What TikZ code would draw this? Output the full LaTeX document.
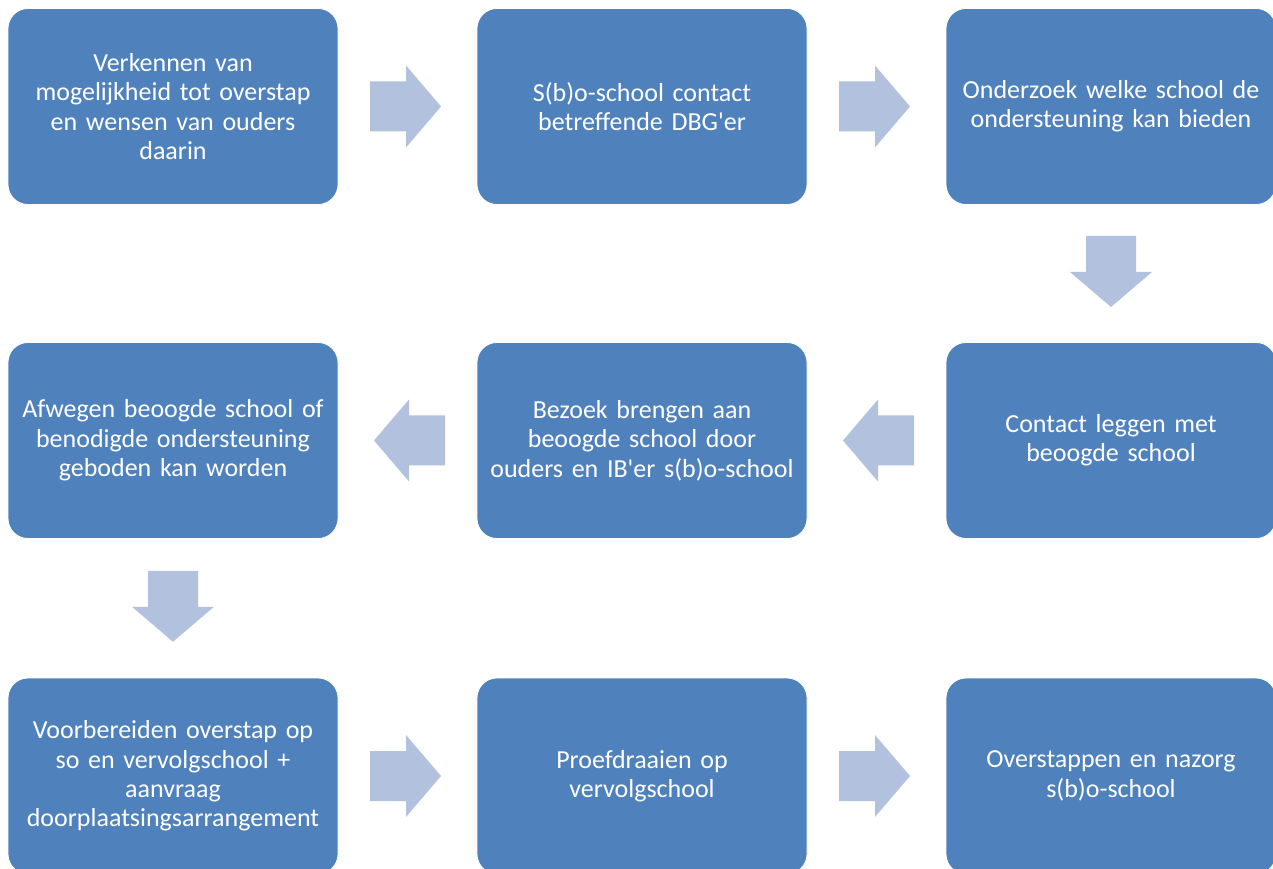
\documentclass[tikz,border=0pt]{standalone}
\usepackage{fontspec}
\setmainfont{Carlito}[Ligatures={TeXOff,NoCommon}]
\usetikzlibrary{calc}
\definecolor{boxblue}{HTML}{4F81BD}
\definecolor{arrowblue}{HTML}{B2C1DE}
\tikzset{
  stepbox/.style={rectangle, rounded corners=20pt, fill=boxblue, draw=white, line width=0.8pt,
    minimum width=330pt, minimum height=196pt, text width=320pt, align=center,
    text=white, font=\fontsize{26}{29.3}\selectfont, inner sep=0pt},
  blockarrow/.pic={\fill[arrowblue] (-37.5,-25) -- (-1.5,-25) -- (-1.5,-41) -- (33.5,0)
    -- (-1.5,41) -- (-1.5,25) -- (-37.5,25) -- cycle;}
}
\begin{document}
\begin{tikzpicture}[x=1pt,y=1pt]
\useasboundingbox (0,0) rectangle (1273,868);
\clip (0,0) rectangle (1273,868);
\fill[white] (0,0) rectangle (1273,868);
% row 1
\node[stepbox] (b1) at (173,761.5) {Verkennen van\\mogelijkheid tot overstap\\en wensen van ouders\\daarin};
\node[stepbox] (b2) at (642,761.5) {S(b)o-school contact\\betreffende DBG'er};
\node[stepbox] (b3) at (1111,761.5) {Onderzoek welke school de\\ondersteuning kan bieden};
% row 2
\node[stepbox] (b4) at (1111,427.5) {Contact leggen met\\beoogde school};
\node[stepbox] (b5) at (642,427.5) {Bezoek brengen aan\\beoogde school door\\ouders en IB'er s(b)o-school};
\node[stepbox] (b6) at (173,427.5) {Afwegen beoogde school of\\benodigde ondersteuning\\geboden kan worden};
% row 3
\node[stepbox] (b7) at (173,92) {Voorbereiden overstap op\\so en vervolgschool +\\aanvraag\\doorplaatsingsarrangement};
\node[stepbox] (b8) at (642,92) {Proefdraaien op\\vervolgschool};
\node[stepbox] (b9) at (1111,92) {Overstappen en nazorg\\s(b)o-school};
% arrows
\pic at ($(b1.east)!0.5!(b2.west)$) {blockarrow};
\pic at ($(b2.east)!0.5!(b3.west)$) {blockarrow};
\pic[rotate=-90] at ($(b3.south)!0.5!(b4.north)$) {blockarrow};
\pic[rotate=180] at ($(b4.west)!0.5!(b5.east)$) {blockarrow};
\pic[rotate=180] at ($(b5.west)!0.5!(b6.east)$) {blockarrow};
\pic[rotate=-90] at ($(b6.south)!0.5!(b7.north)$) {blockarrow};
\pic at ($(b7.east)!0.5!(b8.west)$) {blockarrow};
\pic at ($(b8.east)!0.5!(b9.west)$) {blockarrow};
\end{tikzpicture}
\end{document}
